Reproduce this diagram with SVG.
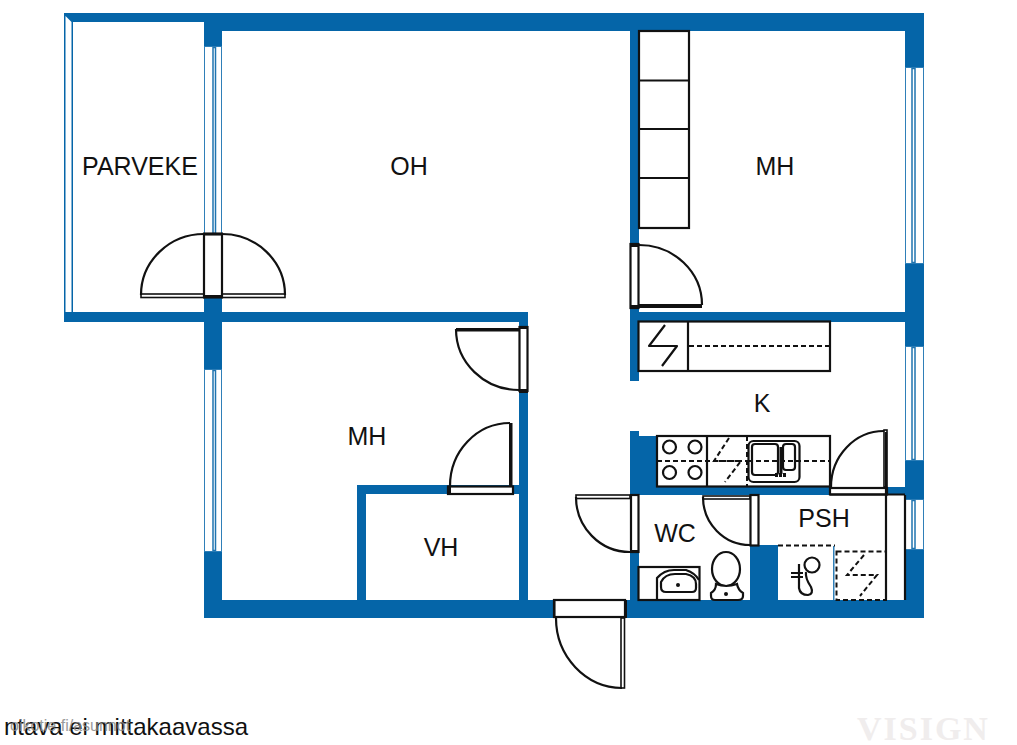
<svg xmlns="http://www.w3.org/2000/svg" width="1017" height="745" viewBox="0 0 1017 745">
<style>
.w{fill:#0565a8}
.win{fill:#fff;stroke:#2f7fb8;stroke-width:1}
.mul{fill:none;stroke:#1f74b0;stroke-width:1.5}
.l{fill:none;stroke:#111;stroke-width:2.2;stroke-linejoin:round}
.t{fill:none;stroke:#111;stroke-width:1.6}
.f{fill:#fff;stroke:#111;stroke-width:2.2}
.d{fill:none;stroke:#111;stroke-width:2;stroke-dasharray:5 3}
.lab{font-family:"Liberation Sans",Arial,sans-serif;font-size:25px;fill:#111;text-anchor:middle}
</style>
<rect width="1017" height="745" fill="#fff"/>
<g id="walls">
<rect class="w" x="64" y="13" width="860" height="9"/>
<rect class="w" x="204" y="13" width="720" height="18"/>
<rect class="w" x="64" y="13" width="9" height="309"/>
<polygon points="65.500,16 71.500,22 71.500,312 65.500,319" fill="#fff"/>
<rect class="w" x="64" y="312" width="464" height="10"/>
<rect class="w" x="204" y="22" width="18" height="596"/>
<rect class="w" x="905" y="13" width="19" height="605"/>
<rect class="w" x="204" y="600" width="720" height="18"/>
<rect class="w" x="519" y="312" width="9" height="288"/>
<rect class="w" x="357" y="485" width="171" height="9"/>
<rect class="w" x="357" y="485" width="9" height="115"/>
<rect class="w" x="630" y="31" width="9" height="350"/>
<rect class="w" x="630" y="312" width="275" height="10"/>
<path class="w" d="M630 431H639V436H657V487H905V495H630Z"/>
<rect class="w" x="630" y="494" width="9" height="106"/>
<rect class="w" x="750" y="545" width="28" height="55"/>
<rect x="833" y="546" width="1.500" height="54" fill="#2f7fb8"/>
</g>
<g id="windows">
<rect class="win" x="204.500" y="46.500" width="17" height="188"/><rect class="mul" x="213" y="47.500" width="2.500" height="186"/>
<rect class="win" x="204.500" y="369.500" width="17" height="182"/><rect class="mul" x="213" y="370.500" width="2.500" height="180"/>
<rect class="win" x="905.500" y="67.500" width="18" height="196"/><rect class="mul" x="912" y="68.500" width="3" height="194"/>
<rect class="win" x="905.500" y="346.500" width="18" height="114"/><rect class="mul" x="912" y="347.500" width="3" height="112"/>
<rect class="win" x="905.500" y="499.500" width="18" height="50"/><rect class="mul" x="912" y="500.500" width="3" height="48"/>
</g>
<g id="balcony-door">
<rect class="f" x="204" y="234" width="18" height="63"/>
<rect x="203" y="232.500" width="20" height="3" fill="#111"/><rect x="203" y="295" width="20" height="3.500" fill="#111"/>
<path class="l" d="M204 234A63 61 0 0 0 141 295M222 234A63 61 0 0 1 285 295"/>
<rect class="t" x="141" y="294" width="63" height="3.500"/><rect class="t" x="222" y="294" width="63" height="3.500"/>
</g>
<g id="door-mh-east">
<rect class="f" x="630.500" y="244" width="8" height="64"/>
<rect x="630" y="243" width="9" height="4" fill="#111"/><rect x="630" y="305" width="9" height="4" fill="#111"/>
<path class="l" d="M639 245A63 60 0 0 1 702 305"/>
<rect x="639" y="304" width="63" height="4" fill="#111"/>
</g>
<g id="door-mh-west">
<rect class="f" x="519.500" y="327" width="8" height="64"/>
<rect x="519" y="326" width="9" height="3" fill="#111"/><rect x="519" y="389" width="9" height="4" fill="#111"/>
<path class="l" d="M456 329A63 61 0 0 0 519 390"/>
<rect x="456" y="328" width="63" height="3.500" fill="#111"/>
</g>
<g id="door-vh">
<rect class="f" x="448" y="486.500" width="65" height="7.500"/>
<rect x="447" y="486" width="4" height="9" fill="#111"/>
<rect x="509" y="423" width="3.500" height="64" fill="#111"/>
<path class="l" d="M510 423A60 63 0 0 0 450 486"/>
</g>
<g id="door-entrance">
<rect class="f" x="554" y="600" width="71" height="17"/>
<rect x="553" y="600" width="2.500" height="18" fill="#111"/><rect x="624" y="600" width="3" height="18" fill="#111"/>
<path class="l" d="M556 618A67 70 0 0 0 622 688"/>
<rect class="t" x="621" y="618" width="3.500" height="70"/>
</g>
<g id="door-wc">
<rect class="f" x="631" y="495" width="7.500" height="57"/>
<path class="l" d="M576 497A54 55 0 0 0 630 552"/>
<rect class="t" x="576" y="495" width="54" height="3.500"/>
<rect x="630" y="550" width="9" height="3" fill="#111"/>
</g>
<g id="door-psh">
<rect class="f" x="750.500" y="495" width="8" height="50.500"/>
<path class="l" d="M703 497A47 48 0 0 0 750 545"/>
<rect class="t" x="703" y="496" width="47" height="3"/>
</g>
<g id="door-kitchen">
<rect class="f" x="830" y="488" width="57" height="6.500"/>
<path class="l" d="M884 431A53 56 0 0 0 831 487"/>
<rect class="t" x="884" y="430" width="3" height="57"/>
</g>
<g id="wardrobe">
<rect class="f" x="639" y="31" width="50" height="197"/>
<path class="l" d="M639 80.500H689M639 129H689M639 178H689"/>
</g>
<g id="counter">
<rect class="f" x="638.500" y="321.500" width="191.500" height="49.500"/>
<path class="l" d="M688 321V371"/>
<path class="d" d="M689 346H832"/>
<polyline class="l" points="665,325 649,346 677,346 662,366"/>
</g>
<g id="kitchen">
<rect class="f" x="657" y="436" width="173" height="50.500"/>
<path class="l" d="M707 436V487"/>
<path class="d" d="M747 436V487M657 461H748"/>
<g class="l"><circle cx="669.500" cy="447" r="6.500"/><circle cx="695" cy="447" r="6.500"/><circle cx="669.500" cy="472.500" r="6.500"/><circle cx="695" cy="472.500" r="6.500"/></g>
<polyline class="d" points="729,438 714,461 741,461 725,482"/>
<rect class="f" x="748.500" y="441" width="51" height="41" rx="5"/>
<rect class="l" x="752" y="444" width="26" height="31" rx="3"/>
<rect class="l" x="783" y="444" width="12" height="26" rx="3"/>
<path d="M781 447V474" stroke="#111" stroke-width="3" fill="none"/>
<path d="M775 475H787" stroke="#111" stroke-width="4" stroke-dasharray="3 1" fill="none"/>
<path class="d" d="M748 461H830"/>
</g>
<g id="wc-fixtures">
<rect class="f" x="638.500" y="567" width="61" height="33"/>
<path class="l" d="M657 600V578Q664 570 674 570H686Q695 573 699 580"/>
<path class="l" d="M661 582Q665 574 675 574H686Q696 576 696 584V588Q696 592 692 592H666Q661 592 661 587Z"/>
<circle cx="678" cy="585" r="2" fill="#111"/>
<ellipse class="l" cx="726" cy="569" rx="14" ry="17"/>
<path class="f" d="M716 584Q726 588 737 584Q738 590 743 593V596Q743 600 738 600H715Q711 600 711 596V593Q716 590 716 584Z"/>
<circle cx="726" cy="594" r="2" fill="#111"/>
</g>
<g id="psh-fixtures">
<path class="d" d="M778 545.500H835"/>
<rect class="d" x="836.500" y="551.500" width="49.500" height="48.500"/>
<polyline class="d" points="864,555 847,575 877,575 860,596"/>
<circle class="l" cx="812" cy="565" r="7.500"/>
<path class="l" d="M791 573H803M791 577H803M799 564V588Q800 595 808 595Q814 594 811 587Q805 578 806 572"/>
<path class="l" d="M886 432V600M905 495V600M830 494.500H905"/>
</g>
<g id="labels">
<text class="lab" x="140" y="175">PARVEKE</text>
<text class="lab" x="409" y="175">OH</text>
<text class="lab" x="775" y="175">MH</text>
<text class="lab" x="367" y="445">MH</text>
<text class="lab" x="441" y="556">VH</text>
<text class="lab" x="762" y="412">K</text>
<text class="lab" x="675" y="542">WC</text>
<text class="lab" x="824" y="527">PSH</text>
</g>
<g id="footer">
<text x="248" y="735" font-family="'Liberation Sans',Arial,sans-serif" font-size="24" fill="#111" text-anchor="end">ntava ei mittakaavassa</text>
<text x="10" y="731" font-family="'Liberation Sans',Arial,sans-serif" font-size="16" fill="#8a8a8a" opacity=".85">oikotie.fi/asunnot</text>
<text x="857" y="740" font-family="'Liberation Serif',serif" font-weight="700" font-size="34" letter-spacing="2" fill="#f0eded">VISIGN</text>
</g>
</svg>
